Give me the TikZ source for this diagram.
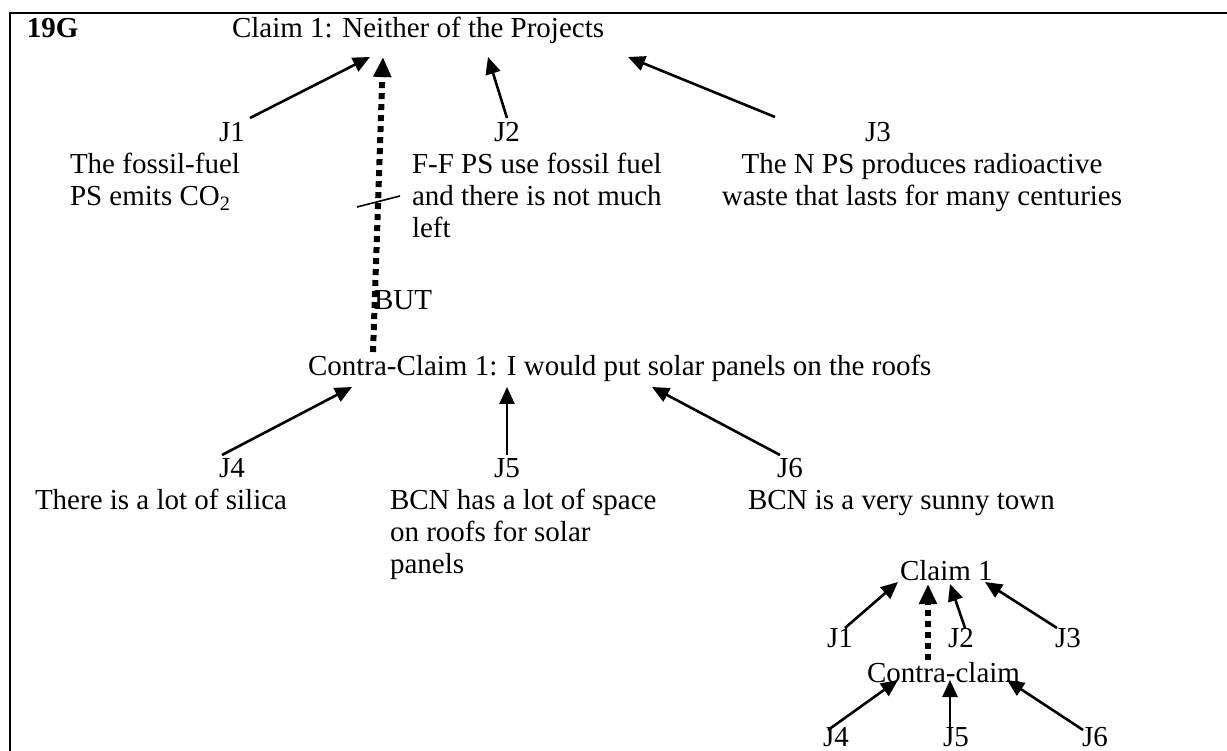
\documentclass[tikz,border=0pt]{standalone}
\usepackage{fontspec}
\setmainfont{Liberation Serif}
\usetikzlibrary{arrows.meta,calc}
\begin{document}
\begin{tikzpicture}[x=1pt,y=-1pt,
  every node/.style={inner sep=0pt,outer sep=0pt,font=\fontsize{29}{32}\selectfont},
  arr/.style={line width=2.6pt,-{Triangle[length=17pt,width=15pt]}},
  dotarr/.style={line width=6pt,dash pattern=on 6pt off 5pt,-{Triangle[length=20pt,width=17pt]}},
  frame/.style={line width=2.5pt},
  tick/.style={line width=1.6pt}]
\useasboundingbox (0,0) rectangle (1227,751);
\fill[white] (0,0) rectangle (1227,751);
\draw[frame] (10,760) -- (10,13) -- (1240,13);

\node[anchor=base west] (lbl) at (27,38) {\bfseries 19G};
\node[anchor=base west] (claim) at (232,38) {Claim 1: Neither of the Projects};

\node[anchor=base] (j1) at (232,142) {J1};
\node[anchor=base] (j2) at (507,142) {J2};
\node[anchor=base] (j3) at (878,142) {J3};
% multi-line nodes: base anchor is the last line
\node[anchor=base west,align=left] (t1) at (70,206) {The fossil-fuel\\PS emits CO\textsubscript{2}};
\node[anchor=base west,align=left] (t2) at (412,238) {F-F PS use fossil fuel\\and there is not much\\left};
\node[anchor=base,align=center] (t3) at (922,206) {The N PS produces radioactive\\waste that lasts for many centuries};

\node[anchor=base west] (but) at (374,310) {BUT};
\node[anchor=base west] (contra) at (308,376) {Contra-Claim 1: I would put solar panels on the roofs};

\node[anchor=base] (j4) at (232,477) {J4};
\node[anchor=base] (j5) at (507,477) {J5};
\node[anchor=base] (j6) at (790,477) {J6};
\node[anchor=base west] (t4) at (35,509) {There is a lot of silica};
\node[anchor=base west,align=left] (t5) at (390,573) {BCN has a lot of space\\on roofs for solar\\panels};
\node[anchor=base west] (t6) at (748,509) {BCN is a very sunny town};

% main arrows
\draw[arr] ($(j1.base)+(18,-24)$) -- ($(claim.base west)+(138,19)$);
\draw[dotarr] ($(contra.base west)+(65,-24)$) -- ($(claim.base west)+(151,19)$);
\draw[arr] ($(j2.base)+(0,-24)$) -- ($(claim.base west)+(256,19)$);
\draw[arr] ($(j3.base)+(-103,-25)$) -- ($(claim.base west)+(396,19)$);
\draw[tick] (357,207) -- (400,196);

\draw[arr] ($(j4.base)+(-10,-22)$) -- ($(contra.base west)+(44,11)$);
\draw[arr] ($(j5.base)+(0,-22)$) -- ($(contra.base west)+(199,11)$);
\draw[arr] ($(j6.base)+(-10,-22)$) -- ($(contra.base west)+(344,11)$);

% mini diagram
\node[anchor=base west] (mclaim) at (900,580) {Claim 1};
\node[anchor=base west] (mj1) at (827,647) {J1};
\node[anchor=base west] (mj2) at (948,647) {J2};
\node[anchor=base west] (mj3) at (1055,647) {J3};
\node[anchor=base west] (mcontra) at (867,682) {Contra-claim};
\node[anchor=base west] (mj4) at (823,746) {J4};
\node[anchor=base west] (mj5) at (943,746) {J5};
\node[anchor=base west] (mj6) at (1082,746) {J6};

\draw[arr] ($(mj1.base west)+(18,-19)$) -- ($(mclaim.base west)+(-2,2)$);
\draw[dotarr] ($(mcontra.base west)+(61,-22)$) -- ($(mclaim.base west)+(28,4)$);
\draw[arr] ($(mj2.base west)+(17,-19)$) -- ($(mclaim.base west)+(50,4)$);
\draw[arr] ($(mj3.base west)+(2,-19)$) -- ($(mclaim.base west)+(85,2)$);
\draw[arr] ($(mj4.base west)+(5,-16)$) -- ($(mcontra.base west)+(31,-2)$);
\draw[arr] ($(mj5.base west)+(7,-11)$) -- ($(mcontra.base west)+(83,-2)$);
\draw[arr] ($(mj6.base west)+(1,-16)$) -- ($(mcontra.base west)+(140,-2)$);
\end{tikzpicture}
\end{document}
